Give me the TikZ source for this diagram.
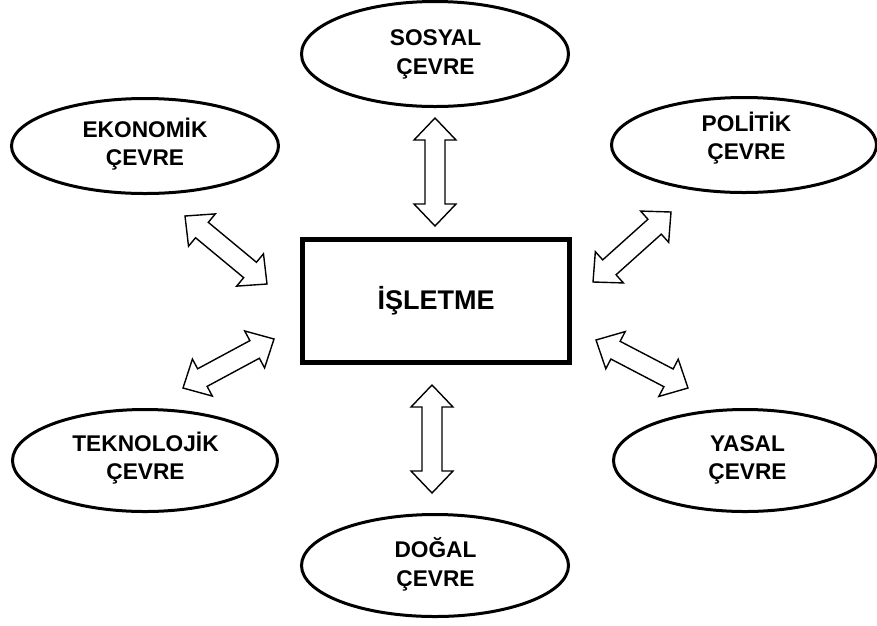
\documentclass[tikz,border=0pt]{standalone}
\usepackage{fontspec}
\setmainfont{Liberation Sans}
\usetikzlibrary{shapes.geometric,calc}

% Two-headed block arrow between two named coordinates:
% head length 22, half head width 21, half shaft width 10
\newcommand\twoway[2]{%
  \path ($(#1)!22pt!(#2)$) coordinate (#1-h)
        ($(#2)!22pt!(#1)$) coordinate (#2-h);
  \draw[blockarr] (#1)
    -- ($(#1-h)!21pt!90:(#2)$) -- ($(#1-h)!10pt!90:(#2)$)
    -- ($(#2-h)!10pt!-90:(#1)$) -- ($(#2-h)!21pt!-90:(#1)$)
    -- (#2)
    -- ($(#2-h)!21pt!90:(#1)$) -- ($(#2-h)!10pt!90:(#1)$)
    -- ($(#1-h)!10pt!-90:(#2)$) -- ($(#1-h)!21pt!-90:(#2)$)
    -- cycle;}

\begin{document}
\begin{tikzpicture}[x=1pt,y=-1pt,
  env/.style={ellipse, draw, line width=3pt, inner sep=0pt},
  envtext/.style={inner sep=0pt, align=center,
    font=\fontsize{22.7}{28.5}\selectfont\bfseries},
  core/.style={rectangle, draw, line width=5.5pt, inner sep=0pt,
    minimum width=267pt, minimum height=123pt,
    font=\fontsize{27}{32}\selectfont\bfseries},
  blockarr/.style={draw, line width=1.4pt, fill=white, line join=miter}]
\useasboundingbox (0,0) rectangle (877,625);

% central firm
\node[core] (firm) at (436,301) {İŞLETME};

% surrounding environments
\node[env, minimum width=267pt, minimum height=105pt] (sosyal) at (435,54) {};
\node[env, minimum width=267pt, minimum height=95pt] (ekonomik) at (145,146) {};
\node[env, minimum width=265pt, minimum height=95pt] (politik) at (744,145) {};
\node[env, minimum width=265pt, minimum height=102pt] (teknolojik) at (145,460.5) {};
\node[env, minimum width=263pt, minimum height=102pt] (yasal) at (745,460.5) {};
\node[env, minimum width=267pt, minimum height=102pt] (dogal) at (435,565.5) {};

% their labels
\node[envtext] (sosyal-t) at (435.5,54.5) {SOSYAL\\ÇEVRE};
\node[envtext] (ekonomik-t) at (145,144) {EKONOMİK\\ÇEVRE};
\node[envtext] (politik-t) at (746.5,138.3) {POLİTİK\\ÇEVRE};
\node[envtext] (teknolojik-t) at (145.5,458) {TEKNOLOJİK\\ÇEVRE};
\node[envtext] (yasal-t) at (747.5,460) {YASAL\\ÇEVRE};
\node[envtext] (dogal-t) at (435.5,564.5) {DOĞAL\\ÇEVRE};

% arrow end points
\coordinate (s1) at (435,118);  \coordinate (s2) at (435,226);
\coordinate (d1) at (432,385);  \coordinate (d2) at (432,493);
\coordinate (e1) at (185,216);  \coordinate (e2) at (267,284);
\coordinate (p1) at (593,282);  \coordinate (p2) at (671,212);
\coordinate (t1) at (183,388);  \coordinate (t2) at (274,339);
\coordinate (y1) at (596,340);  \coordinate (y2) at (688,388);

\twoway{s1}{s2}
\twoway{d1}{d2}
\twoway{e1}{e2}
\twoway{p1}{p2}
\twoway{t1}{t2}
\twoway{y1}{y2}
\end{tikzpicture}
\end{document}
